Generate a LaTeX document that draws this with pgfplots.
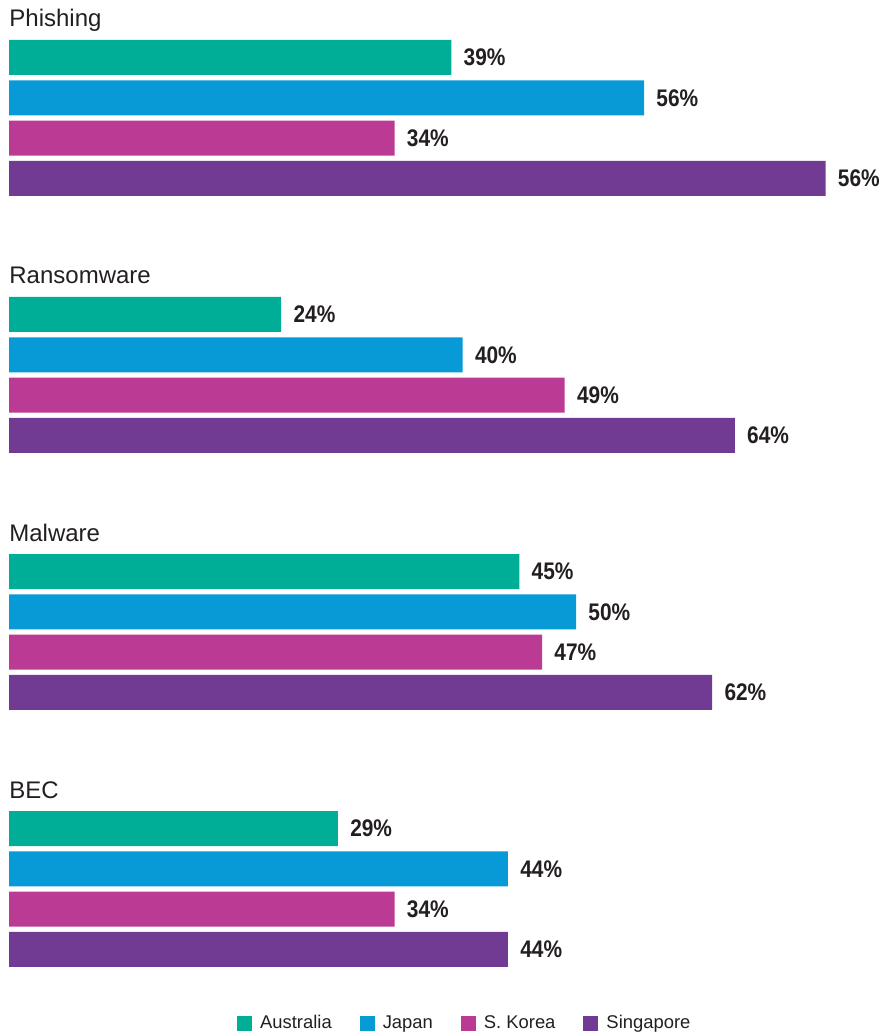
\documentclass[border=0pt]{standalone}
\usepackage{fontspec}
\setmainfont{Liberation Sans}
\newfontfamily\condb{Liberation Sans}[FakeStretch=0.87]
\usepackage{pgfplots}
\pgfplotsset{compat=1.18}
\definecolor{cA}{HTML}{00AE98}
\definecolor{cJ}{HTML}{079AD7}
\definecolor{cK}{HTML}{BB3B94}
\definecolor{cS}{HTML}{713A93}
\definecolor{txt}{HTML}{231F20}
\begin{document}
\begin{tikzpicture}
\begin{axis}[
  scale only axis, width=447pt, height=518pt,
  xmin=-0.7937, xmax=78.04, ymin=0, ymax=1036, y dir=reverse,
  hide axis, clip=false,
  mybar/.style={xbar, bar width=35, bar shift=0pt, draw=none, fill=#1},
  nodes near coords={\pgfplotspointmeta\%},
  point meta=explicit symbolic,
  nodes near coords style={font=\condb\bfseries\fontsize{12}{12}\selectfont, text=txt, anchor=west, inner sep=0pt, xshift=6pt},
  legend columns=4,
  legend style={at={(0.521,0.0121)}, anchor=center, draw=none, fill=none,
    font=\fontsize{9.2}{10}\selectfont, text=txt,
    /tikz/every even column/.append style={column sep=12pt}},
  legend image code/.code={\fill[#1] (0pt,-3.75pt) rectangle (7.5pt,3.75pt);},
]
\coordinate (bl) at (axis cs:-0.7937,1036);
\coordinate (tr) at (axis cs:78.04,0);
\addplot[mybar=cA] table[x=v, y=y, meta=l] {
v y l
39 57.5 39
24 314.5 24
45 571.5 45
29 828.5 29
};
\addlegendentry{\hspace{2pt}Australia}
\addplot[mybar=cJ] table[x=v, y=y, meta=l] {
v y l
56 97.8 56
40 354.8 40
50 611.8 50
44 868.8 44
};
\addlegendentry{\hspace{2pt}Japan}
\addplot[mybar=cK] table[x=v, y=y, meta=l] {
v y l
34 138.1 34
49 395.1 49
47 652.1 47
34 909.1 34
};
\addlegendentry{\hspace{2pt}S. Korea}
\addplot[mybar=cS] table[x=v, y=y, meta=l] {
v y l
72 178.4 56
64 435.4 64
62 692.4 62
44 949.4 44
};
\addlegendentry{\hspace{2pt}Singapore}
\node[anchor=base west, inner sep=0pt, text=txt, font=\fontsize{12}{12}\selectfont] at (axis cs:0,27) {Phishing};
\node[anchor=base west, inner sep=0pt, text=txt, font=\fontsize{12}{12}\selectfont] at (axis cs:0,284) {Ransomware};
\node[anchor=base west, inner sep=0pt, text=txt, font=\fontsize{12}{12}\selectfont] at (axis cs:0,541) {Malware};
\node[anchor=base west, inner sep=0pt, text=txt, font=\fontsize{12}{12}\selectfont] at (axis cs:0,798) {BEC};
\end{axis}
\pgfresetboundingbox
\useasboundingbox (bl) rectangle (tr);
\end{tikzpicture}
\end{document}
